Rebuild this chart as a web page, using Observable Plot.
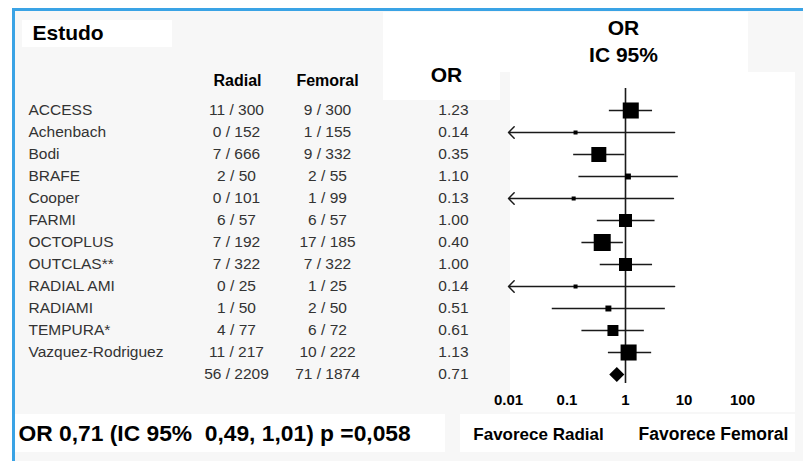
<!DOCTYPE html>
<html>
<head>
<meta charset="utf-8">
<script src="https://cdn.jsdelivr.net/npm/d3@7"></script>
<script src="https://cdn.jsdelivr.net/npm/@observablehq/plot@0.6"></script>
<style>
  html, body { margin: 0; padding: 0; background: #ffffff; }
  #wrap { position: relative; width: 803px; height: 461px; overflow: hidden; font-family: "Liberation Sans", Arial, sans-serif; }
  #panel { position: absolute; left: 12px; top: 8px; right: -10px; bottom: -10px; border-left: 3px solid #3aa3e5; border-top: 3px solid #3aa3e5; background: #f7f7f7; }
  .box { position: absolute; background: #ffffff; }
  #chart { position: absolute; left: 0; top: 0; }
  #chart svg text { white-space: pre; }
</style>
</head>
<body>
<div id="wrap">
  <div id="panel"></div>
  <div class="box" style="left:22px;top:20px;width:150px;height:27px"></div>
  <div class="box" style="left:383px;top:12px;width:117px;height:88px"></div>
  <div class="box" style="left:500px;top:12px;width:248px;height:60px"></div>
  <div class="box" style="left:510px;top:72px;width:285px;height:340px"></div>
  <div class="box" style="left:15px;top:414px;width:430px;height:38px"></div>
  <div class="box" style="left:460px;top:414px;width:335px;height:38px"></div>
  <div id="chart"></div>
</div>
<script>
// ---- data ----
const studies = ["ACCESS", "Achenbach", "Bodi", "BRAFE", "Cooper", "FARMI", "OCTOPLUS",
  "OUTCLAS**", "RADIAL AMI", "RADIAMI", "TEMPURA*", "Vazquez-Rodriguez"];
const radialEvents   = [11, 0, 7, 2, 0, 6, 7, 7, 0, 1, 4, 11];
const radialTotal    = [300, 152, 666, 50, 101, 57, 192, 322, 25, 50, 77, 217];
const femoralEvents  = [9, 1, 9, 2, 1, 6, 17, 7, 1, 2, 6, 10];
const femoralTotal   = [300, 155, 332, 55, 99, 57, 185, 322, 25, 50, 72, 222];
const oddsRatio      = [1.23, 0.14, 0.35, 1.10, 0.13, 1.00, 0.40, 1.00, 0.14, 0.51, 0.61, 1.13];
const ciLow          = [0.53, 0.005, 0.13, 0.16, 0.005, 0.33, 0.18, 0.37, 0.005, 0.056, 0.18, 0.51];
const ciHigh         = [2.9, 6.9, 0.98, 8.0, 6.6, 3.2, 0.92, 2.9, 6.9, 4.8, 2.1, 2.8];
const weight         = [16.0, 1.0, 14.0, 2.2, 1.0, 10.5, 18.0, 10.5, 1.0, 2.2, 7.5, 16.0];
const totalLabel = "Total";
const totalRadial = [56, 2209];
const totalFemoral = [71, 1874];
const totalOR = 0.71;
const totalCI = [0.49, 1.01];
const tickValues = [0.01, 0.1, 1, 10, 100];
const tickLabels = ["0.01", "0.1", "1", "10", "100"];
const summaryText = "OR 0,71 (IC 95%  0,49, 1,01) p =0,058";
const favourLeft = "Favorece Radial";
const favourRight = "Favorece Femoral";

// ---- table built from the arrays ----
const rows = studies.map((s, i) => ({
  key: s, name: s,
  radial: `${radialEvents[i]} / ${radialTotal[i]}`,
  femoral: `${femoralEvents[i]} / ${femoralTotal[i]}`,
  or: oddsRatio[i], orText: oddsRatio[i].toFixed(2),
  lo: ciLow[i], hi: ciHigh[i], w: weight[i]
}));
const totalRow = {
  key: totalLabel, name: "",
  radial: `${totalRadial[0]} / ${totalRadial[1]}`,
  femoral: `${totalFemoral[0]} / ${totalFemoral[1]}`,
  or: totalOR, orText: totalOR.toFixed(2), lo: totalCI[0], hi: totalCI[1]
};
const allRows = [...rows, totalRow];
const xMin = tickValues[0];
const clipped = rows.filter(d => d.lo < xMin);
const full = rows.filter(d => d.lo >= xMin);

const FONT = "Liberation Sans, Arial, sans-serif";
const ink = "#1a1a1a";
const txt = "#333333";

const header = (text, opts) => Plot.text([text], {
  text: d => d, frameAnchor: "top-left", lineAnchor: "middle",
  fill: "#000", fontWeight: "bold", ...opts
});

const chart = Plot.plot({
  width: 803,
  height: 461,
  marginLeft: 508,
  marginRight: 61,
  marginTop: 88,
  marginBottom: 78,
  style: { background: "transparent", fontFamily: FONT, overflow: "visible" },
  x: { type: "log", domain: [tickValues[0], tickValues[tickValues.length - 1]] },
  y: { type: "point", domain: allRows.map(d => d.key), range: [110, 374], padding: 0, axis: null },
  r: { type: "sqrt", domain: [0, 18], range: [0, 9.6] },
  marks: [
    // table columns
    Plot.text(allRows, { y: "key", text: "name", frameAnchor: "left", dx: -480, textAnchor: "start", fontSize: 15.5, fill: txt }),
    Plot.text(allRows, { y: "key", text: "radial", frameAnchor: "left", dx: -272, textAnchor: "middle", fontSize: 15.5, fill: txt }),
    Plot.text(allRows, { y: "key", text: "femoral", frameAnchor: "left", dx: -181, textAnchor: "middle", fontSize: 15.5, fill: txt }),
    Plot.text(allRows, { y: "key", text: "orText", frameAnchor: "left", dx: -40, textAnchor: "end", fontSize: 15.5, fill: txt }),
    // reference line at OR = 1
    Plot.ruleX([1], { stroke: ink, strokeWidth: 1.6 }),
    // confidence intervals
    Plot.ruleY(full, { y: "key", x1: "lo", x2: "hi", stroke: ink, strokeWidth: 1.5 }),
    Plot.arrow(clipped, {
      y1: "key", y2: "key", x1: "hi", x2: d => Math.max(d.lo, xMin),
      stroke: ink, strokeWidth: 1.5, headLength: 8, headAngle: 90
    }),
    // study estimates
    Plot.dot(rows, { y: "key", x: "or", r: "w", symbol: "square", fill: "#000", stroke: null }),
    // pooled estimate
    Plot.dot([totalRow], { y: "key", x: "or", r: 6.8, symbol: "diamond2", fill: "#000", stroke: null }),
    // axis
    Plot.axisX({ ticks: tickValues, tickFormat: (d) => tickLabels[tickValues.indexOf(d)], tickSize: 0, tickPadding: 11,
      fontSize: 15, fontWeight: "bold", fill: "#000", label: null }),
    // headers
    header("Estudo", { dx: -476, dy: -55, textAnchor: "start", fontSize: 21 }),
    header("Radial", { dx: -271, dy: -8, textAnchor: "middle", fontSize: 16 }),
    header("Femoral", { dx: -181, dy: -8, textAnchor: "middle", fontSize: 16 }),
    header("OR", { dx: -62, dy: -13, textAnchor: "middle", fontSize: 21 }),
    header("OR", { dx: 115, dy: -60, textAnchor: "middle", fontSize: 21 }),
    header("IC 95%", { dx: 115, dy: -33, textAnchor: "middle", fontSize: 21 }),
    // footer
    header(summaryText, { frameAnchor: "bottom-left", dx: -490, dy: 50, textAnchor: "start", fontSize: 22.8 }),
    header(favourLeft, { frameAnchor: "bottom-left", dx: 30, dy: 51, textAnchor: "middle", fontSize: 17 }),
    header(favourRight, { frameAnchor: "bottom-left", dx: 205, dy: 51, textAnchor: "middle", fontSize: 17.5 })
  ]
});
document.getElementById("chart").appendChild(chart);
</script>
</body>
</html>
